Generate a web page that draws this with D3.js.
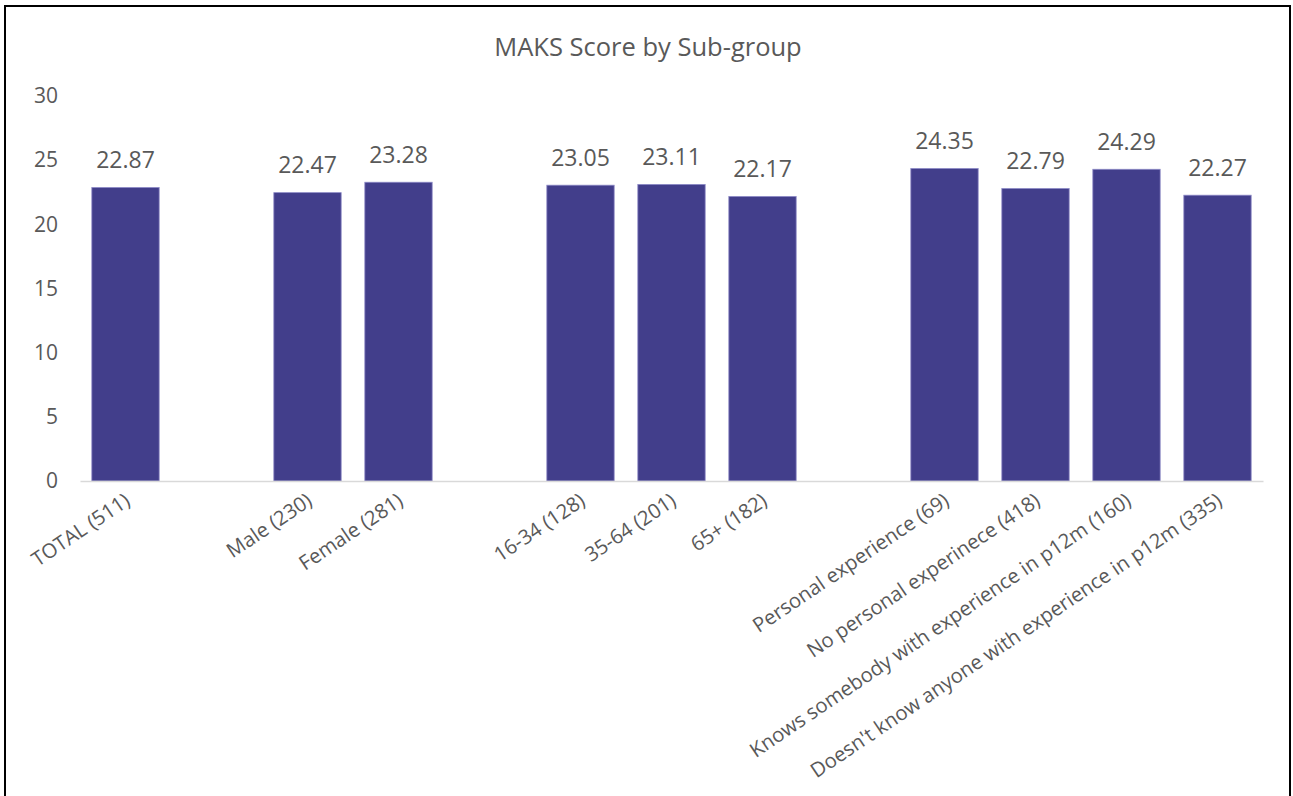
<!DOCTYPE html>
<html>
<head>
<meta charset="utf-8">
<script src="https://cdn.jsdelivr.net/npm/d3@7"></script>
<style>
  html, body { margin: 0; padding: 0; background: #fff; }
  svg { display: block; }
  text { font-family: "Open Sans", "Noto Sans", sans-serif; fill: #595959; }
</style>
</head>
<body>
<svg id="chart" width="1293" height="796"></svg>
<script>
// Sub-group labels; empty strings are spacer slots between groups
const categories = [
  "TOTAL (511)", "",
  "Male (230)", "Female (281)", "",
  "16-34 (128)", "35-64 (201)", "65+ (182)", "",
  "Personal experience (69)", "No personal experinece (418)",
  "Knows somebody with experience in p12m (160)",
  "Doesn't know anyone with experience in p12m (335)"
];
// Mean MAKS score for each slot (null = spacer)
const scores = [
  22.87, null,
  22.47, 23.28, null,
  23.05, 23.11, 22.17, null,
  24.35, 22.79, 24.29, 22.27
];
const yTicks = [0, 5, 10, 15, 20, 25, 30];
const title = "MAKS Score by Sub-group";

const svg = d3.select("#chart");
const W = 1293, H = 796;

// outer frame
svg.append("rect")
  .attr("x", 5).attr("y", 6).attr("width", W - 8).attr("height", H + 10)
  .attr("fill", "#fff").attr("stroke", "#000").attr("stroke-width", 2);

const plot = { left: 80, right: 1263, top: 96, bottom: 481 };

const slots = categories.map((c, i) => "slot" + i);
const x = d3.scaleBand()
  .domain(slots)
  .range([plot.left, plot.right])
  .paddingInner(0.26)
  .paddingOuter(0.13);

const y = d3.scaleLinear().domain([0, 30]).range([plot.bottom, plot.top]);

// title
svg.append("text")
  .attr("x", 648).attr("y", 56)
  .attr("text-anchor", "middle")
  .style("font-size", "25.5px")
  .text(title);

// y axis labels (no axis line)
const yAxis = d3.axisLeft(y).tickValues(yTicks).tickSize(0).tickPadding(0);
const yg = svg.append("g").attr("transform", `translate(58,0)`).call(yAxis);
yg.select(".domain").remove();
yg.selectAll("text")
  .style("font-size", "21px")
  .style("font-family", "'Open Sans', sans-serif")
  .attr("fill", "#595959");

const data = categories.map((c, i) => ({ key: slots[i], label: c, v: scores[i] }))
  .filter(d => d.v !== null);

// bars
svg.append("g").selectAll("rect")
  .data(data).join("rect")
  .attr("x", d => x(d.key))
  .attr("width", x.bandwidth())
  .attr("y", d => y(d.v))
  .attr("height", d => y(0) - y(d.v))
  .attr("fill", "#423E8B")
  .attr("stroke", "#8C89C6")
  .attr("stroke-width", 0.8);

// value labels
svg.append("g").selectAll("text")
  .data(data).join("text")
  .attr("x", d => x(d.key) + x.bandwidth() / 2)
  .attr("y", d => y(d.v) - 19.5)
  .attr("text-anchor", "middle")
  .style("font-size", "23px")
  .attr("fill", "#404040")
  .text(d => d.v.toFixed(2));

// x axis line
const xAxis = d3.axisBottom(x).tickSize(0).tickFormat(() => "");
const xg = svg.append("g").attr("transform", `translate(0,${plot.bottom})`).call(xAxis);
xg.select(".domain").attr("stroke", "#D9D9D9").attr("stroke-width", 1.5);

// rotated category labels
svg.append("g").selectAll("text")
  .data(data).join("text")
  .attr("transform", d => `translate(${x(d.key) + x.bandwidth() / 2 + 6},${plot.bottom + 23}) rotate(-34)`)
  .attr("text-anchor", "end")
  .style("font-size", "20.2px")
  .text(d => d.label);
</script>
</body>
</html>
